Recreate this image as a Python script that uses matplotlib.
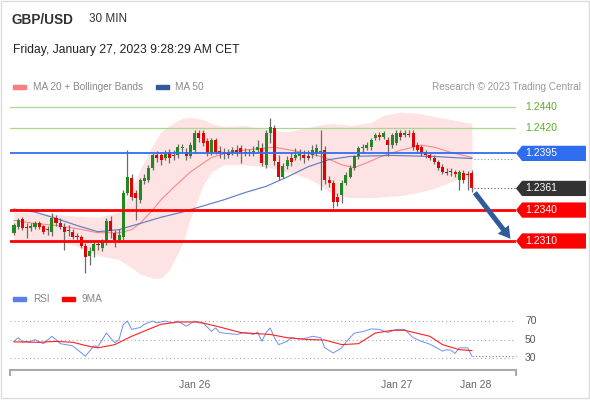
import matplotlib
matplotlib.use("Agg")
import matplotlib.pyplot as plt
from matplotlib.patches import Polygon, Rectangle
from matplotlib.transforms import blended_transform_factory
import numpy as np

plt.rcParams['font.family'] = ['Liberation Sans', 'DejaVu Sans']

# --- 30 min candles, GBP/USD (Jan 25 02:30 -> Jan 27 09:00)
opens = [1.2318, 1.2324, 1.2331, 1.2324, 1.2323, 1.2324, 1.2327, 1.2325, 1.2322, 1.2319,
         1.2332, 1.2327, 1.2324, 1.2321, 1.2319, 1.2315, 1.2314, 1.2305, 1.2295, 1.2300,
         1.2307, 1.2303, 1.2309, 1.2329, 1.2318, 1.2311, 1.2314, 1.2357, 1.2371, 1.2357,
         1.2350, 1.2368, 1.2369, 1.2381, 1.2393, 1.2393, 1.2391, 1.2396, 1.2393, 1.2393,
         1.2400, 1.2396, 1.2392, 1.2398, 1.2415, 1.2415, 1.2407, 1.2395, 1.2408, 1.2397,
         1.2396, 1.2396, 1.2395, 1.2398, 1.2400, 1.2396, 1.2395, 1.2396, 1.2398, 1.2400,
         1.2384, 1.2415, 1.2420, 1.2387, 1.2372, 1.2383, 1.2391, 1.2391, 1.2392, 1.2393,
         1.2392, 1.2393, 1.2395, 1.2396, 1.2398, 1.2369, 1.2366, 1.2353, 1.2355, 1.2366,
         1.2372, 1.2381, 1.2392, 1.2400, 1.2400, 1.2401, 1.2410, 1.2413, 1.2411, 1.2408,
         1.2403, 1.2405, 1.2415, 1.2413, 1.2414, 1.2415, 1.2403, 1.2401, 1.2396, 1.2393,
         1.2391, 1.2387, 1.2382, 1.2377, 1.2378, 1.2377, 1.2369, 1.2376, 1.2375, 1.2376]
highs = [1.2327, 1.2332, 1.2333, 1.2327, 1.2327, 1.2329, 1.2329, 1.2326, 1.2325, 1.2337,
         1.2335, 1.2332, 1.2327, 1.2326, 1.2322, 1.2318, 1.2316, 1.2308, 1.2304, 1.2310,
         1.2310, 1.2312, 1.2332, 1.2334, 1.2321, 1.2322, 1.2359, 1.2398, 1.2375, 1.2359,
         1.2371, 1.2375, 1.2384, 1.2395, 1.2397, 1.2396, 1.2398, 1.2399, 1.2398, 1.2404,
         1.2404, 1.2400, 1.2406, 1.2418, 1.2418, 1.2418, 1.2410, 1.2410, 1.2410, 1.2402,
         1.2400, 1.2399, 1.2401, 1.2403, 1.2403, 1.2400, 1.2399, 1.2402, 1.2408, 1.2405,
         1.2418, 1.2429, 1.2423, 1.2393, 1.2386, 1.2392, 1.2395, 1.2400, 1.2399, 1.2398,
         1.2398, 1.2403, 1.2404, 1.2418, 1.2402, 1.2373, 1.2369, 1.2357, 1.2369, 1.2377,
         1.2384, 1.2393, 1.2402, 1.2404, 1.2406, 1.2410, 1.2415, 1.2416, 1.2417, 1.2411,
         1.2415, 1.2418, 1.2418, 1.2418, 1.2418, 1.2418, 1.2406, 1.2403, 1.2398, 1.2396,
         1.2393, 1.2389, 1.2385, 1.2381, 1.2381, 1.2379, 1.2379, 1.2379, 1.2378, 1.2379]
lows = [1.2316, 1.2322, 1.2321, 1.2313, 1.2320, 1.2322, 1.2322, 1.2317, 1.2316, 1.2315,
        1.2325, 1.2322, 1.2301, 1.2315, 1.2312, 1.2311, 1.2303, 1.2279, 1.2287, 1.2294,
        1.2301, 1.2300, 1.2306, 1.2313, 1.2304, 1.2309, 1.2311, 1.2355, 1.2350, 1.2330,
        1.2347, 1.2365, 1.2367, 1.2379, 1.2387, 1.2384, 1.2389, 1.2386, 1.2389, 1.2391,
        1.2396, 1.2389, 1.2391, 1.2395, 1.2406, 1.2402, 1.2392, 1.2393, 1.2394, 1.2391,
        1.2390, 1.2391, 1.2393, 1.2392, 1.2386, 1.2392, 1.2392, 1.2392, 1.2396, 1.2383,
        1.2381, 1.2405, 1.2384, 1.2369, 1.2371, 1.2380, 1.2383, 1.2389, 1.2389, 1.2386,
        1.2389, 1.2391, 1.2392, 1.2359, 1.2365, 1.2362, 1.2342, 1.2344, 1.2347, 1.2364,
        1.2371, 1.2379, 1.2390, 1.2395, 1.2398, 1.2398, 1.2408, 1.2408, 1.2409, 1.2392,
        1.2400, 1.2403, 1.2408, 1.2411, 1.2411, 1.2398, 1.2395, 1.2392, 1.2391, 1.2389,
        1.2385, 1.2379, 1.2375, 1.2374, 1.2373, 1.2372, 1.2359, 1.2366, 1.2359, 1.2358]
closes = [1.2326, 1.2330, 1.2323, 1.2323, 1.2325, 1.2327, 1.2324, 1.2319, 1.2321, 1.2332,
          1.2327, 1.2324, 1.2319, 1.2320, 1.2314, 1.2314, 1.2305, 1.2294, 1.2300, 1.2307,
          1.2306, 1.2309, 1.2329, 1.2320, 1.2311, 1.2316, 1.2357, 1.2372, 1.2353, 1.2352,
          1.2369, 1.2371, 1.2381, 1.2393, 1.2391, 1.2389, 1.2394, 1.2391, 1.2392, 1.2401,
          1.2401, 1.2392, 1.2403, 1.2415, 1.2410, 1.2405, 1.2396, 1.2408, 1.2396, 1.2395,
          1.2394, 1.2393, 1.2398, 1.2396, 1.2396, 1.2395, 1.2396, 1.2397, 1.2401, 1.2386,
          1.2415, 1.2421, 1.2388, 1.2372, 1.2383, 1.2389, 1.2387, 1.2393, 1.2394, 1.2391,
          1.2391, 1.2398, 1.2400, 1.2397, 1.2369, 1.2366, 1.2348, 1.2348, 1.2366, 1.2374,
          1.2381, 1.2392, 1.2400, 1.2401, 1.2403, 1.2408, 1.2413, 1.2411, 1.2415, 1.2403,
          1.2413, 1.2415, 1.2411, 1.2415, 1.2413, 1.2401, 1.2398, 1.2395, 1.2393, 1.2391,
          1.2387, 1.2381, 1.2377, 1.2376, 1.2377, 1.2375, 1.2377, 1.2369, 1.2374, 1.2361]

# indicators (bar index, price)
bb_idx = [0, 5, 10, 15, 20, 25, 28, 30, 33, 35, 37, 40, 42, 45, 47, 50, 55, 60, 65, 70,
          73, 76, 80, 85, 88, 92, 96, 100, 105, 109]
bb_upper = [1.2338, 1.2337, 1.2336, 1.2334, 1.2333, 1.2338, 1.2359, 1.2379, 1.2403, 1.2416,
            1.2422, 1.2429, 1.2430, 1.2428, 1.2424, 1.2421, 1.2422, 1.2418, 1.2416, 1.2420,
            1.2423, 1.2424, 1.2422, 1.2425, 1.2432, 1.2435, 1.2434, 1.2431, 1.2427, 1.2424]
bb_lower = [1.2311, 1.2312, 1.2311, 1.2305, 1.2296, 1.2292, 1.2284, 1.2278, 1.2274, 1.2274,
            1.2282, 1.2306, 1.2332, 1.2364, 1.2377, 1.2384, 1.2384, 1.2382, 1.2377, 1.2371,
            1.2364, 1.2355, 1.2352, 1.2352, 1.2353, 1.2354, 1.2357, 1.2361, 1.2369, 1.2374]
ma20_idx = [0, 5, 10, 15, 20, 25, 28, 30, 33, 35, 38, 42, 47, 52, 57, 62, 66, 70, 74, 78,
            81, 84, 88, 92, 97, 100, 104, 109]
ma20 = [1.2330, 1.2327, 1.2325, 1.2322, 1.2318, 1.2318, 1.2321, 1.2327, 1.2340, 1.2350,
        1.2362, 1.2377, 1.2391, 1.2397, 1.2399, 1.2401, 1.2398, 1.2395, 1.2391, 1.2384,
        1.2381, 1.2386, 1.2393, 1.2398, 1.2403, 1.2401, 1.2396, 1.2391]
ma50_idx = [0, 5, 10, 15, 20, 25, 30, 35, 40, 45, 50, 55, 60, 65, 70, 75, 80, 90, 100, 109]
ma50 = [1.2341, 1.2338, 1.2332, 1.2325, 1.2319, 1.2321, 1.2327, 1.2333, 1.2338, 1.2344,
        1.2350, 1.2357, 1.2363, 1.2372, 1.2382, 1.2389, 1.2392, 1.2393, 1.2392, 1.2390]

rsi_idx = [0, 1, 2, 4, 5, 6, 7, 9, 10, 11, 13, 14, 17, 19, 20, 22, 24, 25, 26, 27,
           28, 30, 31, 33, 34, 36, 38, 39, 41, 43, 44, 45, 47, 48, 49, 51, 53, 55, 57, 58,
           59, 60, 61, 62, 63, 65, 66, 68, 70, 71, 73, 74, 76, 78, 79, 81, 83, 85, 87, 89,
           91, 92, 93, 95, 97, 99, 102, 103, 104, 105, 106, 108, 109]
rsi = [48, 52, 47.5, 48, 50, 47.5, 45.5, 53.5, 50, 45.5, 44, 43, 32, 43, 42.5, 57, 46.5, 50, 66, 70,
       61, 63, 66.5, 70, 68, 70, 68, 70, 64.5, 70, 68, 68, 59, 62.5, 57.5, 56.5, 55.5, 57.5, 55.5, 58,
       48, 57.5, 62.5, 52, 44.5, 48, 52, 50.5, 52, 53.5, 52, 41, 35.5, 41, 47, 57, 58.5, 61.5, 61, 57.5,
       61, 61, 61, 52, 48, 45, 37.5, 39, 38.5, 35, 41, 41, 32]
ma9_idx = [0, 6, 10, 14, 18, 20, 24, 28, 32, 35, 39, 44, 49, 54, 61, 65, 70, 74, 78, 82,
           86, 90, 93, 99, 102, 106, 109]
ma9 = [47.5, 47, 48, 47, 42.5, 41, 44.5, 53.5, 61, 66.5, 69, 69, 63.5, 57.5, 55.5, 52, 50, 49.5, 44.5, 45.5,
       57, 60, 60, 53.5, 44.5, 39, 38]

resist = [1.2440, 1.2420]
pivot = 1.2395
support = [1.2340, 1.2310]
tick_pos = [43, 91, 110]
tick_lbl = ['Jan 26', 'Jan 27', 'Jan 28']

W, H = 590, 400
fig = plt.figure(figsize=(W / 100, H / 100), dpi=100)


def px_axes(l, t, r, b):
    return fig.add_axes([l / W, 1 - b / H, (r - l) / W, (b - t) / H])


# overlay for header / legends / frame, in pixel units
ov = fig.add_axes([0, 0, 1, 1])
ov.set_xlim(0, W)
ov.set_ylim(H, 0)
ov.axis('off')
ov.add_patch(Rectangle((0.5, 0.5), W - 2, H - 3, fill=False, ec='#dcdcdc', lw=1))
ov.text(12, 19.5, 'GBP/USD', fontsize=9.8, fontweight='bold', color='#333333', va='center')
ov.text(89, 19.5, '30 MIN', fontsize=8.5, color='#333333', va='center')
ov.text(13, 49.5, 'Friday, January 27, 2023 9:28:29 AM CET', fontsize=8.7, color='#222222', va='center')
ov.add_patch(Rectangle((13, 85), 13, 4, color='#f77f7f'))
ov.text(33, 87, 'MA 20 + Bollinger Bands', fontsize=7.2, color='#888888', va='center')
ov.add_patch(Rectangle((156, 85), 13, 4, color='#2f5b9c'))
ov.text(175, 87, 'MA 50', fontsize=7.2, color='#888888', va='center')
ov.text(581, 87, 'Research \u00a9 2023 Trading Central', fontsize=7.2, color='#999999',
        va='center', ha='right')
ov.add_patch(Rectangle((13, 297), 13, 4, color='#5b7fe6'))
ov.text(33, 299, 'RSI', fontsize=7.2, color='#888888', va='center')
ov.add_patch(Rectangle((62, 297), 13, 4, color='#ff0000'))
ov.text(82, 299, '9MA', fontsize=7.2, color='#888888', va='center')

# --- price panel
ax = px_axes(10, 100, 516, 285)
ax.set_xlim(-0.95, 119.5)
ax.set_ylim(1.22673, 1.24468)
ax.axis('off')

x = np.arange(len(closes))
o = np.array(opens)
c = np.array(closes)
up = c >= o
body = np.where(np.abs(c - o) < 0.00004, 0.00004, c - o)
ax.fill_between(bb_idx, bb_lower, bb_upper, color='#fde3e3', lw=0, zorder=1)
ax.plot(ma20_idx, ma20, color='#f58a8a', lw=0.8, zorder=2)
ax.plot(ma50_idx, ma50, color='#5f7fbf', lw=0.85, zorder=2)
ax.vlines(x, lows, highs, color='#6b6b6b', lw=0.9, zorder=3)
ax.bar(x, body, bottom=o, width=0.72, color=np.where(up, '#1f8a1f', '#e60000'), lw=0, zorder=4)

for lv in resist:
    ax.axhline(lv, color='#a9d98c', lw=0.9, zorder=2)
ax.axhline(pivot, color='#2f6df0', lw=1.3, zorder=5)
for lv in support:
    ax.axhline(lv, color='#ff0000', lw=2, zorder=5)

# dotted extensions to the right
ax.plot([x[-1] + 0.5, 119.5], [closes[-1]] * 2, ls=(0, (1, 2)), color='#555555', lw=0.8, clip_on=False)
ax.plot([ma50_idx[-1] + 0.5, 119.0], [ma50[-1]] * 2, ls=(0, (1, 2)), color='#7f95c8', lw=0.8, clip_on=False)

# forecast arrow
ax.annotate('', xy=(x[-1] + 9.6, support[1]), xytext=(x[-1] + 0.3, closes[-1] - 0.0002),
            arrowprops=dict(arrowstyle='simple,head_width=1.0,head_length=0.85,tail_width=0.36',
                            color='#2f5b9c', lw=0),
            annotation_clip=False, zorder=6)

tr = blended_transform_factory(ax.transAxes, ax.transData)
hh = 0.00074


def tag(level, fc, tc='white'):
    poly = Polygon([(1.0, level), (1.012, level + hh), (1.1383, level + hh),
                    (1.1383, level - hh), (1.012, level - hh)],
                   closed=True, transform=tr, fc=fc, ec='none', clip_on=False, zorder=6)
    ax.add_patch(poly)
    ax.text(1.0178, level, f'{level:.4f}', transform=tr, color=tc, fontsize=7.5,
            va='center', ha='left', clip_on=False, zorder=7)


for lv in resist:
    ax.text(1.0178, lv, f'{lv:.4f}', transform=tr, color='#5cae26', fontsize=7.5,
            va='center', ha='left', clip_on=False)
tag(pivot, '#2f6df0')
tag(closes[-1], '#333333')
for lv in support:
    tag(lv, '#ff0000')

# --- RSI panel
ar = px_axes(10, 310, 516, 370)
ar.set_xlim(-0.95, 119.5)
ar.set_ylim(17, 82)
for lv in [70, 50, 30]:
    ar.axhline(lv, color='#aaaaaa', ls=(0, (1, 2.5)), lw=0.8)
    ar.text(1.0178, lv, str(lv), transform=blended_transform_factory(ar.transAxes, ar.transData),
            fontsize=7.5, color='#555555', va='center', ha='left')
ar.plot(rsi_idx, rsi, color='#6d8ff0', lw=0.7)
ar.plot(ma9_idx, ma9, color='#ff2020', lw=0.8)
ar.plot([rsi_idx[-1], 119.5], [rsi[-1]] * 2, color='#5b7fe6', ls=(0, (1, 2)), lw=0.8, clip_on=False)
for s in ['top', 'right', 'left']:
    ar.spines[s].set_visible(False)
ar.spines['bottom'].set_color('#aaaaaa')
ar.spines['bottom'].set_linewidth(1.5)
ar.plot([0, 0], [0, -0.09], transform=ar.transAxes, color='#aaaaaa', lw=1.5, clip_on=False)
ar.plot([1, 1], [0, -0.09], transform=ar.transAxes, color='#aaaaaa', lw=1.5, clip_on=False)
ar.set_yticks([])
ar.set_xticks(tick_pos)
ar.set_xticklabels(tick_lbl, fontsize=7.5, color='#666666')
ar.tick_params(axis='x', length=0, pad=7)

fig.savefig('out.png', dpi=100)
